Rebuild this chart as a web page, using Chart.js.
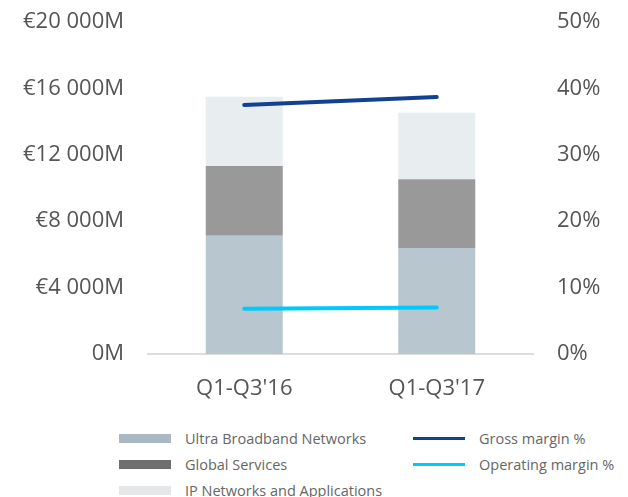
<!DOCTYPE html>
<html>
<head>
<meta charset="utf-8">
<script src="https://cdn.jsdelivr.net/npm/chart.js@4/dist/chart.umd.min.js"></script>
<style>
  body { margin: 0; background: #fff; font-family: 'Open Sans', sans-serif; }
  #wrap { position: relative; width: 628px; height: 404px; }
  #legend { position: relative; width: 628px; height: 93px; }
  .col { position: absolute; top: 21px; }
  .item { height: 26px; display: flex; align-items: center; font-size: 14.5px; color: #666; }
  .sw { width: 52px; margin-right: 14px; }
</style>
</head>
<body>
<div id="wrap"><canvas id="chart"></canvas></div>
<div id="legend">
  <div class="col" id="legend-bars" style="left:119px"></div>
  <div class="col" id="legend-lines" style="left:413px"></div>
</div>
<script>
const periods = ["Q1-Q3'16", "Q1-Q3'17"];
const ultraBroadband = [7120, 6380];
const globalServices = [4210, 4150];
const ipNetworks = [4170, 4010];
const grossMargin = [37.5, 38.7];
const operatingMargin = [6.8, 7.0];
const euroTicks = [0, 4000, 8000, 12000, 16000, 20000];
const pctTicks = [0, 10, 20, 30, 40, 50];

function euroLabel(v) {
    if (v === 0) return '0M';
    const s = String(v);
    return '€' + s.slice(0, s.length - 3) + ' ' + s.slice(-3) + 'M';
}

// fixed side widths and top gap so the plot area sits where the original does
function fitSide(width) {
    return function (axis) {
        axis.width = width;
        axis.paddingTop = 22;
        axis.paddingBottom = 0;
    };
}

document.addEventListener('DOMContentLoaded', function () {
    const canvas = document.getElementById('chart');
    const tickFont = { family: "'Open Sans', sans-serif", size: 22 };

    const chart = new Chart(canvas, {
        type: 'bar',
        data: {
            labels: periods,
            datasets: [{
                label: 'Ultra Broadband Networks',
                data: ultraBroadband,
                backgroundColor: '#b8c6cf',
                legendColor: '#a9b8c3',
                order: 1
            },
            {
                label: 'Global Services',
                data: globalServices,
                backgroundColor: '#999999',
                legendColor: '#6e6e6e',
                order: 1
            },
            {
                label: 'IP Networks and Applications',
                data: ipNetworks,
                backgroundColor: '#e8edf0',
                legendColor: '#e6e7e9',
                order: 1
            },
            {
                type: 'line',
                label: 'Gross margin %',
                data: grossMargin,
                yAxisID: 'y1',
                borderColor: '#124191',
                borderWidth: 4,
                borderCapStyle: 'round',
                pointRadius: 0,
                order: 0
            },
            {
                type: 'line',
                label: 'Operating margin %',
                data: operatingMargin,
                yAxisID: 'y1',
                borderColor: '#00c9ff',
                borderWidth: 4,
                borderCapStyle: 'round',
                pointRadius: 0,
                order: 0
            }]
        },
        options: {
            responsive: true,
            maintainAspectRatio: false,
            animation: false,
            layout: { padding: 0 },
            datasets: {
                bar: { barPercentage: 0.4, categoryPercentage: 1 }
            },
            scales: {
                x: {
                    stacked: true,
                    grid: { display: false, drawTicks: false },
                    border: { display: true, color: '#dddddd', width: 2 },
                    ticks: { color: '#555', font: tickFont, padding: 22 },
                    afterFit: function (axis) { axis.height = 50; }
                },
                y: {
                    stacked: true,
                    min: 0,
                    max: 20000,
                    afterBuildTicks: function (axis) {
                        axis.ticks = euroTicks.map(v => ({ value: v }));
                    },
                    grid: { display: false, drawTicks: false },
                    border: { display: false },
                    ticks: {
                        color: '#555',
                        font: tickFont,
                        padding: 24,
                        callback: v => euroLabel(v)
                    },
                    afterFit: fitSide(148)
                },
                y1: {
                    position: 'right',
                    min: 0,
                    max: 50,
                    afterBuildTicks: function (axis) {
                        axis.ticks = pctTicks.map(v => ({ value: v }));
                    },
                    grid: { display: false, drawTicks: false },
                    border: { display: false },
                    ticks: {
                        color: '#555',
                        font: tickFont,
                        padding: 24,
                        callback: v => v + '%'
                    },
                    afterFit: fitSide(95)
                }
            },
            plugins: {
                legend: { display: false },
                tooltip: { enabled: false }
            }
        }
    });

    // html legend, two columns like the original
    chart.data.datasets.forEach(function (ds) {
        const item = document.createElement('div');
        item.className = 'item';
        const sw = document.createElement('span');
        sw.className = 'sw';
        if (ds.type === 'line') {
            sw.style.height = '3px';
            sw.style.background = ds.borderColor;
        } else {
            sw.style.height = '9px';
            sw.style.background = ds.legendColor;
        }
        item.appendChild(sw);
        item.appendChild(document.createTextNode(ds.label));
        const col = ds.type === 'line' ? 'legend-lines' : 'legend-bars';
        document.getElementById(col).appendChild(item);
    });
});
</script>
</body>
</html>
